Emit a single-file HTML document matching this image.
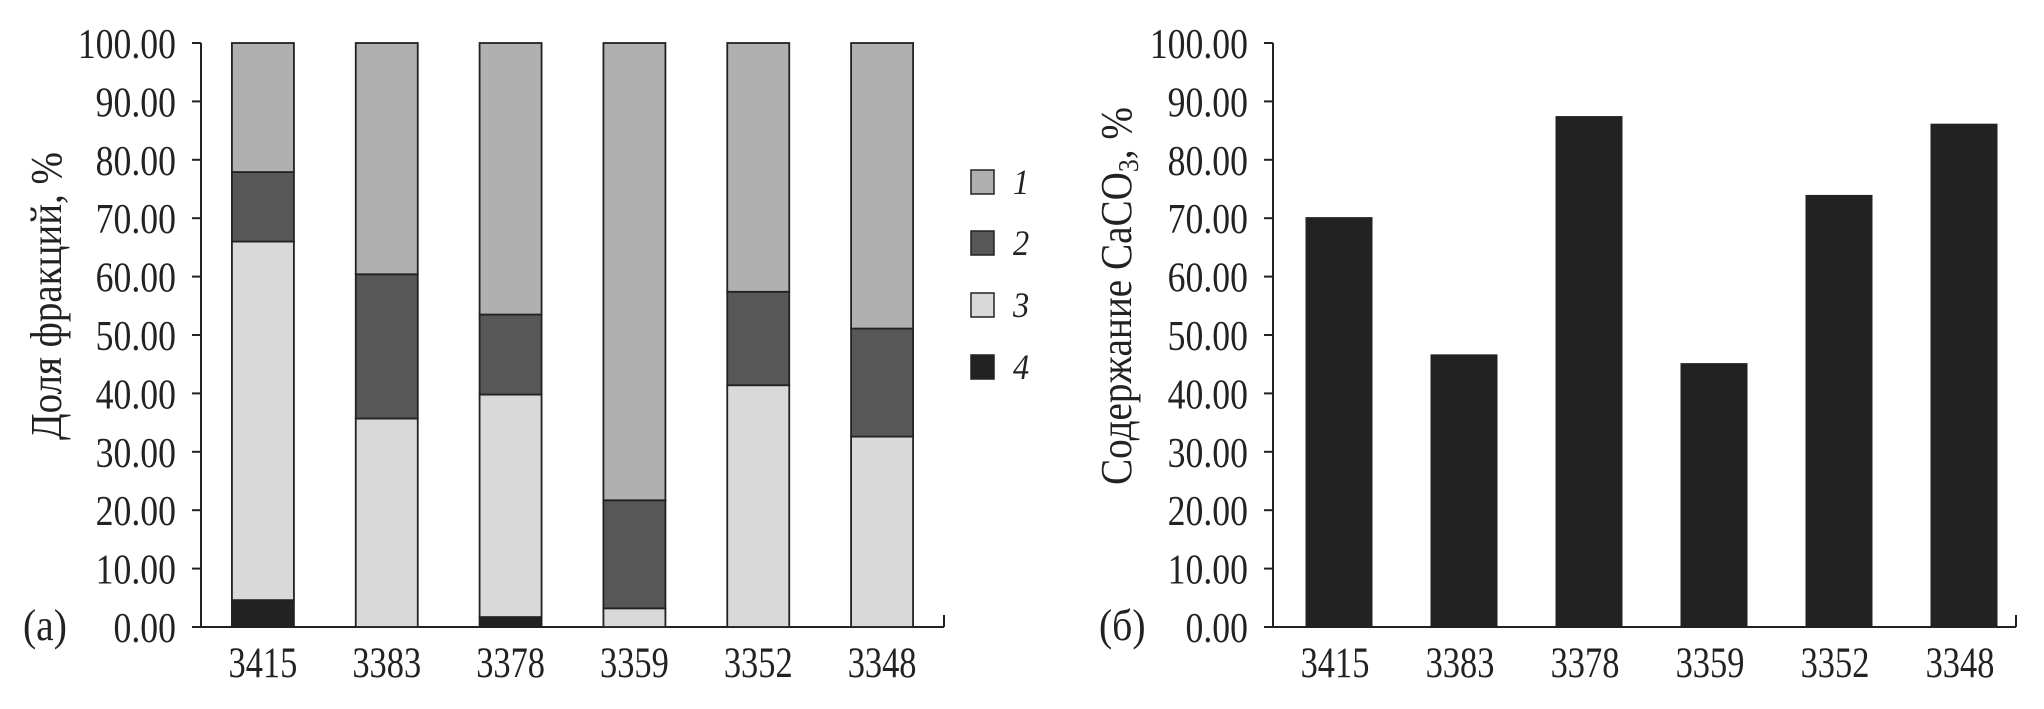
<!DOCTYPE html>
<html><head><meta charset="utf-8"><style>
html,body{margin:0;padding:0;background:#fff;}
svg{display:block;font-family:"Liberation Serif",serif;}
</style></head><body>
<svg id="c" width="2044" height="709" xmlns="http://www.w3.org/2000/svg"></svg>
<script>
const categories = ["3415","3383","3378","3359","3352","3348"];
const frac4 = [4.6,0,1.7,0,0,0];
const frac3 = [61.4,35.7,38.1,3.2,41.4,32.6];
const frac2 = [11.9,24.7,13.7,18.5,16.0,18.5];
const frac1 = [22.1,39.6,46.5,78.3,42.6,48.9];
const caco3 = [70.1,46.6,87.4,45.1,73.9,86.1];
const yTicks = [0,10,20,30,40,50,60,70,80,90,100];
const legendLabels = ["1","2","3","4"];

const NS="http://www.w3.org/2000/svg";
const svg=document.getElementById('c');
function mk(tag,attrs,parent){const e=document.createElementNS(NS,tag);for(const k in attrs)e.setAttribute(k,attrs[k]);(parent||svg).appendChild(e);return e;}
function txt(s,x,y,size,anchor,sx,parent,italic){
  const t=mk('text',{transform:`translate(${x},${y}) scale(${sx},1)`,'font-size':size,'text-anchor':anchor,fill:'#222'},parent);
  if(italic)t.setAttribute('font-style','italic');
  t.textContent=s;return t;}
const y0=627,yTop=43;
function ys(v){return y0-(v/100)*(y0-yTop);}

function drawAxes(g,ax,axEnd,tag,tagX){
  mk('line',{x1:ax,y1:yTop,x2:ax,y2:y0,stroke:'#222','stroke-width':2},g);
  mk('line',{x1:ax,y1:y0,x2:axEnd,y2:y0,stroke:'#222','stroke-width':2},g);
  mk('line',{x1:axEnd,y1:y0,x2:axEnd,y2:y0-12,stroke:'#222','stroke-width':2},g);
  yTicks.forEach(v=>{
    const tk=mk('line',{x1:ax-9,y1:ys(v),x2:ax,y2:ys(v),stroke:'#222','stroke-width':2},g);
    
    
    const l=txt(v.toFixed(2),ax-25,ys(v)+15,42,'end',0.85,g);
    
    
  });
  const p=txt(tag,tagX,y0+13,44,'start',0.9,g);
  
  
}

// Left chart
const gA=mk('g',{});


const axA=201,endA=944,bandA=(endA-axA)/6,bwA=62;
drawAxes(gA,axA,endA,'(a)',23);
const yt=mk('text',{transform:'translate(61,296) rotate(-90)','font-size':44,'text-anchor':'middle',fill:'#222',textLength:288,lengthAdjust:'spacingAndGlyphs'},gA);
yt.textContent='Доля фракций, %';


const series=[[frac4,'#222'],[frac3,'#d9d9d9'],[frac2,'#575757'],[frac1,'#b0b0b0']];
categories.forEach((c,i)=>{
  const cx=axA+bandA*(i+0.5);
  let base=0;
  series.forEach(([arr,col],si)=>{
    const v=arr[i];
    if(v>0){
      const r=mk('rect',{x:cx-bwA/2,y:ys(base+v),width:bwA,height:ys(base)-ys(base+v),fill:col,stroke:'#222','stroke-width':1.8},gA);
      
      
    }
    base+=v;
  });
  const l=txt(c,cx,677,43,'middle',0.8,gA);
  
  
});
// Legend
const legCols=['#b0b0b0','#575757','#d9d9d9','#222'];
const legY=[182,243,305,367];
legendLabels.forEach((s,i)=>{
  const r=mk('rect',{x:971,y:legY[i]-12,width:23,height:24,fill:legCols[i],stroke:'#222','stroke-width':1.5},gA);
  
  
  const t=txt(s,1013,legY[i]+12,36,'start',0.9,gA,true);
  
  
});

// Right chart
const gB=mk('g',{});


const axB=1273,endB=2016,bandB=125,startB=1276.5,bwB=66;
drawAxes(gB,axB,endB,'(б)',1099);
const yt2=mk('text',{transform:'translate(1131,296) rotate(-90)','font-size':44,'text-anchor':'middle',fill:'#222',textLength:378,lengthAdjust:'spacingAndGlyphs'},gB);
yt2.innerHTML='Содержание CaCO<tspan font-size="29" dy="7">3</tspan><tspan dy="-7">, %</tspan>';


categories.forEach((c,i)=>{
  const cx=startB+bandB*(i+0.5);
  const r=mk('rect',{x:cx-bwB/2,y:ys(caco3[i]),width:bwB,height:y0-ys(caco3[i]),fill:'#222',stroke:'#222','stroke-width':1},gB);
  
  
  const l=txt(c,cx-4,677,43,'middle',0.8,gB);
  
  
});
</script>
</body></html>
